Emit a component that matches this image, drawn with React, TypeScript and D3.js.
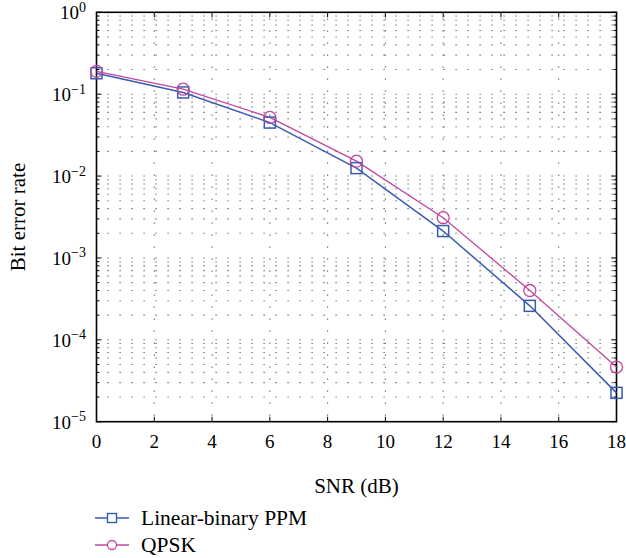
import React from "react";
import * as d3 from "d3";

const snr = [0, 3, 6, 9, 12, 15, 18];
const ppm = [0.18, 0.105, 0.045, 0.0125, 0.00213, 0.00026, 0.0000225];
const qpsk = [0.19, 0.115, 0.052, 0.0152, 0.0031, 0.0004, 0.0000465];
const xTicks = [0, 2, 4, 6, 8, 10, 12, 14, 16, 18];
const yExps = [0, -1, -2, -3, -4, -5];
const seriesNames = ["Linear-binary PPM", "QPSK"];

const W = 626, H = 558;
const L = 96.5, R = 616.5, T = 12.3, B = 421.7;
const BLUE = "#3a5bb3";
const MAG = "#c1479f";
const FONT = "Liberation Serif";
const fs = (size: number) => ({ fontFamily: FONT, fontSize: size });

export default function App() {
  const x = d3.scaleLinear().domain([0, 18]).range([L, R]);
  const y = d3.scaleLog().domain([1e-5, 1]).range([B, T]);
  const minors: number[] = [];
  for (let e = -5; e < 0; e++) for (let m = 2; m <= 9; m++) minors.push(m * Math.pow(10, e));
  const line = d3.line<number>().x((_, i) => x(snr[i])).y((d) => y(d));
  const sq = 5.5;
  return (
    <svg width={W} height={H} style={{ position: "absolute", left: 0, top: 0 }}>
      <rect x={0} y={0} width={W} height={H} fill="#fff" />
      {/* grid */}
      <g stroke="#555" strokeWidth={1.1}>
        {xTicks.slice(1, -1).map((t) => (
          <line key={"gx" + t} x1={x(t)} x2={x(t)} y1={B} y2={T} strokeDasharray="1.2,10.8" strokeDashoffset={-6} />
        ))}
        {minors.map((m, i) => (
          <line key={"gy" + i} x1={L} x2={R} y1={y(m)} y2={y(m)} strokeDasharray="1.2,10.8" strokeDashoffset={-11} />
        ))}
        {yExps.slice(1, -1).map((e) => (
          <line key={"gd" + e} x1={L} x2={R} y1={y(Math.pow(10, e))} y2={y(Math.pow(10, e))} strokeDasharray="1.2,10.8" strokeDashoffset={-11} />
        ))}
      </g>
      {/* ticks */}
      <g stroke="#000" strokeWidth={1}>
        {xTicks.map((t) => (
          <g key={"tx" + t}>
            <line x1={x(t)} x2={x(t)} y1={B} y2={B - 5} />
            <line x1={x(t)} x2={x(t)} y1={T} y2={T + 5} />
          </g>
        ))}
        {yExps.map((e) => (
          <g key={"ty" + e}>
            <line x1={L} x2={L + 5} y1={y(Math.pow(10, e))} y2={y(Math.pow(10, e))} />
            <line x1={R} x2={R - 5} y1={y(Math.pow(10, e))} y2={y(Math.pow(10, e))} />
          </g>
        ))}
        {minors.map((m, i) => (
          <g key={"tm" + i}>
            <line x1={L} x2={L + 3} y1={y(m)} y2={y(m)} />
            <line x1={R} x2={R - 3} y1={y(m)} y2={y(m)} />
          </g>
        ))}
      </g>
      <rect x={L} y={T} width={R - L} height={B - T} fill="none" stroke="#000" strokeWidth={1.6} />
      {/* series */}
      <path d={line(ppm) || ""} fill="none" stroke={BLUE} strokeWidth={1.5} />
      <path d={line(qpsk) || ""} fill="none" stroke={MAG} strokeWidth={1.3} />
      {ppm.map((v, i) => (
        <rect key={"p" + i} x={x(snr[i]) - sq} y={y(v) - sq} width={2 * sq} height={2 * sq} fill="none" stroke={BLUE} strokeWidth={1.5} />
      ))}
      {qpsk.map((v, i) => (
        <circle key={"q" + i} cx={x(snr[i])} cy={y(v)} r={6} fill="none" stroke={MAG} strokeWidth={1.3} />
      ))}
      {/* tick labels */}
      <g fill="#000">
        {xTicks.map((t) => (
          <text key={"lx" + t} x={x(t)} y={448} textAnchor="middle" style={fs(19)}>{t}</text>
        ))}
        {yExps.map((e) => (
          <text key={"ly" + e} x={86} y={y(Math.pow(10, e)) + 7} textAnchor="end" style={fs(19)}>
            10<tspan dy={-7.5} style={fs(14)}>{e === 0 ? "0" : "\u2212" + Math.abs(e)}</tspan>
          </text>
        ))}
      </g>
      <text x={356.5} y={493} textAnchor="middle" style={fs(21)}>SNR (dB)</text>
      <text transform={`translate(25,${(T + B) / 2}) rotate(-90)`} textAnchor="middle" style={fs(21)}>Bit error rate</text>
      {/* legend */}
      {seriesNames.map((n, i) => {
        const ly = 518 + i * 27;
        const c = i === 0 ? BLUE : MAG;
        return (
          <g key={n}>
            <line x1={95} x2={129} y1={ly} y2={ly} stroke={c} strokeWidth={1.4} />
            {i === 0 ? (
              <rect x={112 - 4.5} y={ly - 4.5} width={9} height={9} fill="#fff" stroke={c} strokeWidth={1.4} />
            ) : (
              <circle cx={112} cy={ly} r={4.5} fill="#fff" stroke={c} strokeWidth={1.3} />
            )}
            <text x={141} y={ly + 6.5} style={fs(21.5)}>{n}</text>
          </g>
        );
      })}
    </svg>
  );
}
